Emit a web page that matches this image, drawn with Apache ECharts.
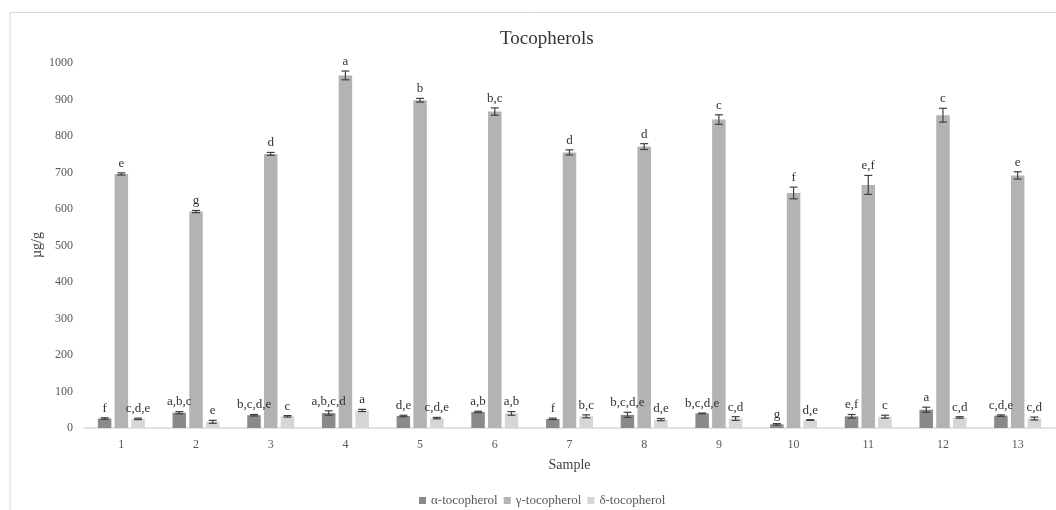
<!DOCTYPE html>
<html><head><meta charset="utf-8">
<script src="https://cdn.jsdelivr.net/npm/echarts@6/dist/echarts.min.js"></script>
<style>html,body{margin:0;padding:0;background:#fff}#c{width:1056px;height:510px}</style>
</head><body><div id="c"></div>
<script>
const categories = ['1','2','3','4','5','6','7','8','9','10','11','12','13'];
const alphaVals = [26, 42, 35, 41, 33, 44, 25, 36, 40, 10, 32, 50, 34];
const alphaErr  = [2, 3, 2, 6, 2, 2, 2, 7, 1, 2, 5, 7, 2];
const alphaLbl  = ['f','a,b,c','b,c,d,e','a,b,c,d','d,e','a,b','f','b,c,d,e','b,c,d,e','g','e,f','a','c,d,e'];
const gammaVals = [696, 593, 751, 966, 898, 867, 755, 771, 845, 644, 666, 857, 692];
const gammaErr  = [3, 3, 4, 12, 5, 10, 7, 8, 13, 16, 26, 19, 10];
const gammaLbl  = ['e','g','d','a','b','b,c','d','d','c','f','e,f','c','e'];
const deltaVals = [25, 17, 32, 48, 27, 40, 32, 23, 26, 22, 31, 29, 26];
const deltaErr  = [2, 4, 2, 3, 2, 5, 4, 3, 5, 1, 4, 2, 4];
const deltaLbl  = ['c,d,e','e','c','a','c,d,e','a,b','b,c','d,e','c,d','d,e','c','c,d','c,d'];
const yTicks = [0,100,200,300,400,500,600,700,800,900,1000];
const yName = 'µg/g';

const FONT = '"Liberation Serif", "Times New Roman", serif';
const colors = ['#8a8a8a', '#b3b3b3', '#d6d6d6'];
const names = ['α-tocopherol', 'γ-tocopherol', 'δ-tocopherol'];
const BW = 13.5, STEP = 16.7;

function errSeries(vals, errs, lbls, offset) {
  const data = vals.map((v, i) => [i, v, errs[i], lbls[i]]);
  return {
    type: 'custom', silent: true, z: 5,
    encode: {x: 0, y: 1},
    data: data,
    renderItem: function (params, api) {
      const i = api.value(0), v = api.value(1), e = api.value(2);
      const lbl = data[params.dataIndex][3];
      const top = api.coord([i, v + e]);
      const bot = api.coord([i, v - e]);
      const x = top[0] + offset;
      const cap = 4;
      const st = {stroke: '#404040', lineWidth: 1.2};
      return {type: 'group', children: [
        {type: 'line', shape: {x1: x, y1: top[1], x2: x, y2: bot[1]}, style: st},
        {type: 'line', shape: {x1: x - cap, y1: top[1], x2: x + cap, y2: top[1]}, style: st},
        {type: 'line', shape: {x1: x - cap, y1: bot[1], x2: x + cap, y2: bot[1]}, style: st},
        {type: 'text', x: x, y: top[1] - 3, style: {text: lbl, fill: '#333', font: '13px ' + FONT, align: 'center', verticalAlign: 'bottom'}}
      ]};
    }
  };
}

const chart = echarts.init(document.getElementById('c'), null, {renderer: 'canvas'});
chart.setOption({
  animation: false,
  backgroundColor: '#fff',
  graphic: [
    {type: 'rect', shape: {x: 10, y: 12.5, width: 1100, height: 600}, style: {fill: 'none', stroke: '#d9d9d9', lineWidth: 1}, silent: true, z: -10},
    {type: 'text', x: 37, y: 245, rotation: Math.PI / 2, silent: true,
      style: {text: yName, fill: '#404040', font: '14px ' + FONT, align: 'center', verticalAlign: 'middle'}}
  ],
  title: {text: 'Tocopherols', left: 495, top: 25,
    textStyle: {fontFamily: FONT, fontSize: 19, fontWeight: 'normal', color: '#333'}},
  legend: {bottom: -2, left: 414, itemWidth: 7, itemHeight: 7, itemGap: 6, icon: 'rect',
    textStyle: {fontFamily: FONT, fontSize: 13, color: '#595959'}, data: names},
  grid: {left: 84, right: 1, top: 63, bottom: 82, containLabel: false},
  xAxis: {type: 'category', data: categories, name: 'Sample', nameLocation: 'middle', nameGap: 30,
    nameTextStyle: {fontFamily: FONT, fontSize: 14, color: '#404040'},
    axisLine: {lineStyle: {color: '#d9d9d9', width: 1.5}}, axisTick: {show: false},
    axisLabel: {fontFamily: FONT, fontSize: 12, color: '#595959', margin: 11}},
  yAxis: {type: 'value', min: 0, max: 1000, interval: 100,
    axisLine: {show: false}, axisTick: {show: false}, splitLine: {show: false},
    axisLabel: {fontFamily: FONT, fontSize: 12, color: '#595959', margin: 11,
      formatter: v => yTicks.includes(v) ? String(v) : ''}},
  series: [
    {name: names[0], type: 'bar', data: alphaVals, barWidth: BW, barGap: '24%', itemStyle: {color: colors[0]}},
    {name: names[1], type: 'bar', data: gammaVals, barWidth: BW, barGap: '24%', itemStyle: {color: colors[1]}},
    {name: names[2], type: 'bar', data: deltaVals, barWidth: BW, barGap: '24%', itemStyle: {color: colors[2]}},
    errSeries(alphaVals, alphaErr, alphaLbl, -STEP),
    errSeries(gammaVals, gammaErr, gammaLbl, 0),
    errSeries(deltaVals, deltaErr, deltaLbl, STEP)
  ]
});
</script></body></html>
